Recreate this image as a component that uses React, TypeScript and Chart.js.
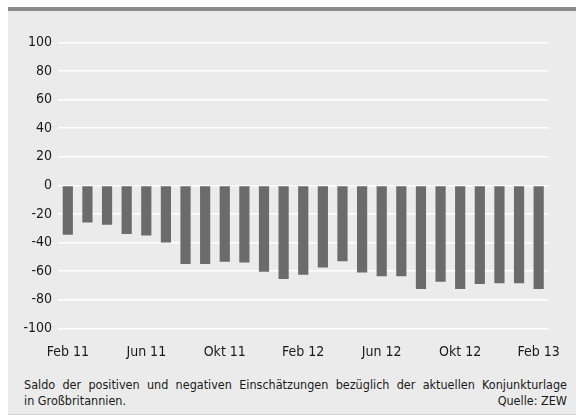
import React, { useEffect, useRef } from "react";
import { Chart, registerables } from "chart.js";

Chart.register(...registerables);

const months = [
  "Feb 11", "Mär 11", "Apr 11", "Mai 11", "Jun 11", "Jul 11", "Aug 11", "Sep 11",
  "Okt 11", "Nov 11", "Dez 11", "Jan 12", "Feb 12", "Mär 12", "Apr 12", "Mai 12",
  "Jun 12", "Jul 12", "Aug 12", "Sep 12", "Okt 12", "Nov 12", "Dez 12", "Jan 13", "Feb 13",
];
const shownLabels = ["Feb 11", "Jun 11", "Okt 11", "Feb 12", "Jun 12", "Okt 12", "Feb 13"];
const saldo = [
  -34.5, -26, -27.5, -34, -35, -40, -55, -55, -53.5, -54, -60.5, -65.5,
  -62.5, -57.5, -53, -61, -63.5, -63.5, -72.5, -67.5, -72.5, -69, -68.5, -68.5, -72.5,
];
const yTicks = [100, 80, 60, 40, 20, 0, -20, -40, -60, -80, -100];

const FONT = "'Liberation Sans Narrow', 'DejaVu Sans Condensed', 'Liberation Sans', sans-serif";

export default function App() {
  const ref = useRef<HTMLCanvasElement | null>(null);

  useEffect(() => {
    if (!ref.current) return;
    const chart = new Chart(ref.current, {
      type: "bar",
      data: {
        labels: months,
        datasets: [
          {
            data: saldo,
            backgroundColor: "#6b6b6b",
            borderWidth: 0,
            barPercentage: 0.52,
            categoryPercentage: 1,
          },
        ],
      },
      options: {
        animation: false,
        responsive: false,
        maintainAspectRatio: false,
        layout: { padding: { left: 0, right: 10, top: 31.5, bottom: 0 } },
        plugins: { legend: { display: false }, tooltip: { enabled: false } },
        scales: {
          x: {
            grid: { display: false, drawTicks: false },
            border: { display: false },
            ticks: {
              autoSkip: false,
              maxRotation: 0,
              padding: 16,
              color: "#1a1a1a",
              font: { family: FONT, size: 14 },
              callback: (_v: any, i: number) =>
                shownLabels.includes(months[i]) ? months[i] : "",
            },
            afterFit: (s: any) => {
              s.height = 37.7;
            },
          },
          y: {
            min: -100,
            max: 100,
            afterBuildTicks: (s: any) => {
              s.ticks = yTicks.map((v) => ({ value: v }));
            },
            grid: { color: "#ffffff", lineWidth: 1.5, drawTicks: false },
            border: { display: false },
            ticks: {
              padding: 6,
              color: "#1a1a1a",
              font: { family: FONT, size: 14 },
            },
            afterFit: (s: any) => {
              s.width = 50;
            },
          },
        },
      },
    });
    return () => chart.destroy();
  }, []);

  return (
    <div
      style={{
        position: "absolute",
        left: 8,
        top: 7,
        width: 568,
        height: 403,
        background: "#ebebeb",
        borderTop: "4px solid #8c8c8c",
        borderBottom: "1px solid #cfcfcf",
        fontFamily: FONT,
        color: "#1a1a1a",
      }}
    >
      <canvas
        ref={ref}
        width={568}
        height={355}
        style={{ position: "absolute", left: 0, top: 0, width: 568, height: 355 }}
      />
      <div
        style={{
          position: "absolute",
          left: 16,
          top: 366,
          width: 543,
          fontSize: 12.5,
          lineHeight: "16px",
          textAlign: "justify",
          textAlignLast: "justify" as any,
          whiteSpace: "nowrap",
        }}
      >
        Saldo der positiven und negativen Einschätzungen bezüglich der aktuellen Konjunkturlage
      </div>
      <div
        style={{
          position: "absolute",
          left: 16,
          top: 382,
          width: 543,
          fontSize: 12.5,
          lineHeight: "16px",
          display: "flex",
          justifyContent: "space-between",
        }}
      >
        <span>in Großbritannien.</span>
        <span>Quelle: ZEW</span>
      </div>
    </div>
  );
}
